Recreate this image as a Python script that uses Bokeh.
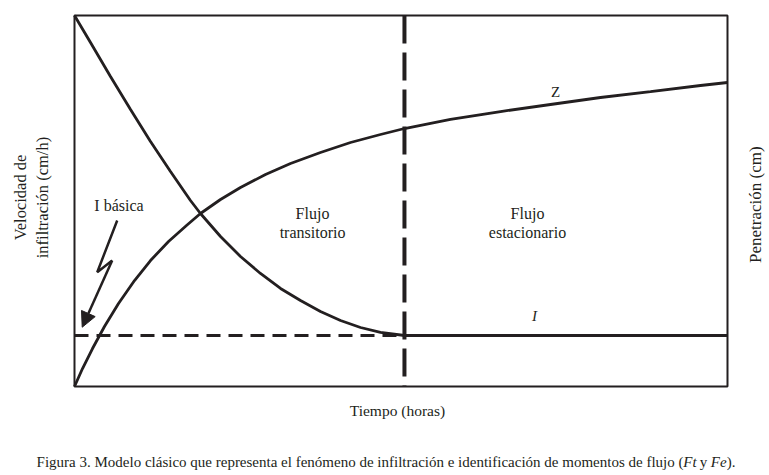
from bokeh.plotting import figure
from bokeh.models import Range1d, Label, Arrow, NormalHead
from bokeh.embed import file_html
from bokeh.resources import INLINE
import math

# ---- data (arbitrary units: time 0-10, value 0-10) ----
x_min, x_max = 0.0, 10.0
y_min, y_max = 0.0, 10.0

# infiltration rate curve I (decreasing)
time_i = [0.0, 0.245, 0.551, 0.858, 1.164, 1.470, 1.776, 1.929, 2.236, 2.542,
          2.848, 3.155, 3.461, 3.767, 4.074, 4.380, 4.686, 5.053]
infiltration = [10.0, 9.272, 8.356, 7.466, 6.604, 5.795, 5.013, 4.663, 4.043, 3.504,
                3.046, 2.642, 2.318, 2.022, 1.779, 1.590, 1.456, 1.375]

# cumulative penetration curve Z (increasing)
time_z = [0.0, 0.123, 0.276, 0.459, 0.674, 0.919, 1.164, 1.440, 1.715, 1.929,
          2.236, 2.542, 2.925, 3.308, 3.767, 4.227, 4.686, 5.053, 5.758, 6.524,
          7.289, 8.055, 8.821, 9.587, 10.0]
penetration = [0.0, 0.485, 1.024, 1.617, 2.237, 2.857, 3.396, 3.908, 4.340, 4.663,
               5.040, 5.364, 5.714, 6.011, 6.307, 6.577, 6.792, 6.954, 7.197, 7.412,
               7.601, 7.790, 7.951, 8.113, 8.194]

t_steady = 5.053    # start of steady flow
i_basic = 1.375     # basic infiltration rate

# lightning-bolt pointer to "I basica"
bolt_x = [0.654, 0.348, 0.577]
bolt_y = [4.474, 3.081, 3.396]
bolt_tip = (0.118, 1.598)

INK = "#231f20"
FONT = "Liberation Serif"

p = figure(width=769, height=475, output_backend="svg", toolbar_location=None,
           x_range=Range1d(-1.1332, 10.6432), y_range=Range1d(-2.3989, 10.4043),
           x_axis_location=None, y_axis_location=None, min_border=0)
p.grid.visible = False
p.outline_line_color = None
p.background_fill_color = "white"
p.border_fill_color = "white"

# chart box
p.quad(left=[x_min], right=[x_max], bottom=[y_min], top=[y_max],
       fill_color=None, line_color=INK, line_width=2)

p.line(time_i, infiltration, line_color=INK, line_width=2.8)
p.line(time_z, penetration, line_color=INK, line_width=2.8)
p.line([x_min, t_steady], [i_basic, i_basic], line_color=INK, line_width=3,
       line_dash="14 8")
p.line([t_steady, x_max], [i_basic, i_basic], line_color=INK, line_width=3)
p.line([t_steady, t_steady], [y_max, y_min], line_color=INK, line_width=4,
       line_dash="28 9")

p.line(bolt_x, bolt_y, line_color=INK, line_width=2.5)
p.add_layout(Arrow(end=NormalHead(size=15, fill_color=INK, line_color=INK),
                   x_start=bolt_x[-1], y_start=bolt_y[-1],
                   x_end=bolt_tip[0], y_end=bolt_tip[1],
                   line_color=INK, line_width=2.5))

def lab(x, y, text, size=16, style="normal", angle=0.0, align="center"):
    p.add_layout(Label(x=x, y=y, text=text,
                       text_font=FONT, text_font_size=f"{size}px",
                       text_font_style=style, text_color=INK,
                       text_align=align, text_baseline="middle",
                       angle=angle))

lab(0.681, 4.879, "I básica")
lab(3.645, 4.663, "Flujo")
lab(3.645, 4.151, "transitorio")
lab(6.937, 4.663, "Flujo")
lab(6.937, 4.151, "estacionario")
lab(7.366, 7.925, "Z", size=15)
lab(7.044, 1.887, "I", size=15, style="italic")

lab(4.946, -0.647, "Tiempo (horas)", size=15.5)
lab(-0.827, 5.094, "Velocidad de", size=16.5, angle=math.pi / 2)
lab(-0.490, 5.094, "infiltración (cm/h)", size=16.5, angle=math.pi / 2)
lab(10.429, 4.90, "Penetración (cm)", size=17, angle=math.pi / 2)

# caption, right-anchored so the italic parts can follow
cap_y = -2.022
cap_end = 10.122
px = 1 / 65.3
lab(cap_end, cap_y, ").", size=15, align="right")
lab(cap_end - 8.8 * px, cap_y, "Fe", size=15, style="italic", align="right")
lab(cap_end - 28.3 * px, cap_y, "y", size=15, align="right")
lab(cap_end - 38.8 * px, cap_y, "Ft", size=15, style="italic", align="right")
lab(cap_end - 52.0 * px, cap_y,
    "Figura 3. Modelo clásico que representa el fenómeno de infiltración e identificación de momentos de flujo (",
    size=15, align="right")

open("out.html", "w").write(file_html(p, INLINE))
